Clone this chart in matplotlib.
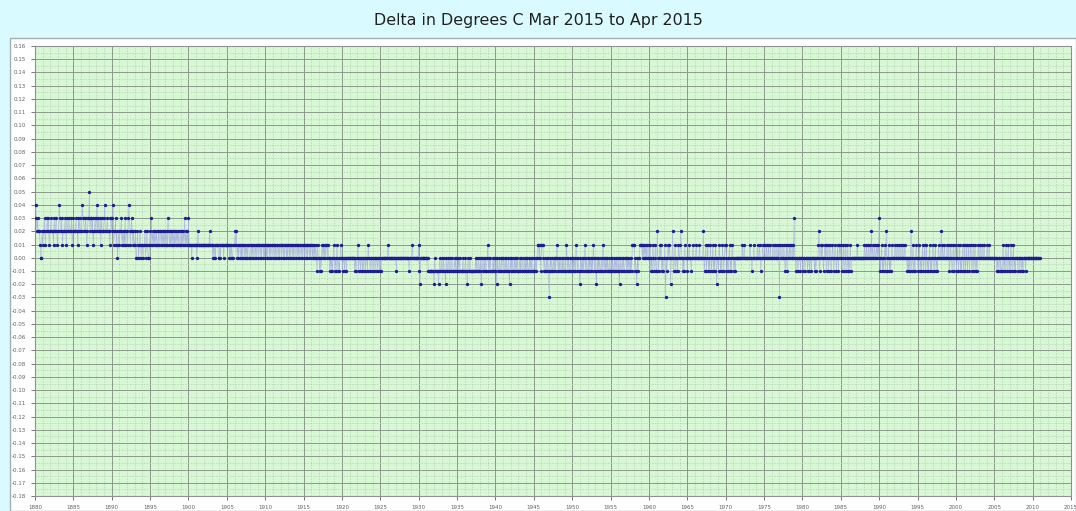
import numpy as np
import matplotlib.pyplot as plt
import matplotlib.ticker as ticker
from matplotlib.patches import Rectangle

# monthly deltas, one 12-char chunk per year
# '0'..'5' = +0.00..+0.05, 'a' = -0.01, 'b' = -0.02, 'c' = -0.03
d1880 = ("443232221002 122312232312 232221322321 224322312223 213223222312 "
         "322232213232 224332232123 352332312232 342322313222 342223222133")
d1890 = ("234122312012 122312121312 213421232121 120021012101 101120121001 "
         "213121212121 121221212121 212132121212 121212121211 212121312121")
d1900 = ("311110111111 101211111111 111111111211 110101011110 010111101111 "
         "111101010011 121201011010 101101010110 011010110101 101101011010")
d1910 = ("110101101011 011010110101 101101011010 110101101011 011010110101 "
         "101101011010 110101010a10 0a0a01010101 10100a0a0a01 0a0a10a0a010")
d1920 = ("0a00a00a0000 00000000a0a0 01a00a00a0a0 0a00a100a00a 00a00a00a00a "
         "0a0000000000 100000000000 0a0000000000 000000000a00 001000000000")
d1930 = ("1ab000000000 000aaaaaaaaa b0aaaaaba0aa 0aa0aab0aa0a a0aa0aaa0a0a "
         "aa0a0aaaa0aa a0aab0aa0aaa aaaaa0a0aa0a a0b0aa0a0aa0 1a0a0aaa0a0a")
d1940 = ("a0b0aa0aa0a0 0aa0a0aa0ab0 a0a0aa0a0a0a aa0a0aa0aa0a 0a0aa0a0a0aa "
         "a0a0a011010a 1110a0aa0a0a ca0a0aa0a0a0 10a0a0aa0a0a a0a10a0aa0a0")
d1950 = ("0a0a0a10a0aa b0a0a0a01a0a a0a0a0a0a10a 0ab0a0a0aa0a 10a0a0a0aa0a "
         "a0a0aa0a0a0a a0b0aa0a0aa0 0a0a0a0a0a11 11a0ab0a0011 110101010100")
d1960 = ("101a0a10a01a a20a0101a0a0 01c0a01010b0 020a01a00a10 01200a0a1000 "
         "a00100a00100 001000010000 020a01a01a0a 10a01a0a10b0 0a10a0a10a01")
d1970 = ("10a0a01a0a10 0a0a00000000 001001000000 00100a001000 0010010a0010 "
         "010010010010 001001001001 c10010010a01 a10010100103 00a00a000a00")
d1980 = ("0a00a000a00a 00a0000a0a00 012a01010a01 01a01a010a01 0a010a01a010 "
         "10a01a01a01a 0a01a0000000 001000000000 010010010010 201001001010")
d1990 = ("30a01a0a01a2 0a01a0a01000 010010010010 01001000a0a0 a02a01a0a010 "
         "0a01a0a01a01 a01a0a01a0a0 10a01a0a0100 020100100010 01a010a01a01")
d2000 = ("0a01a01a0a01 a01a01a01a01 0a01a01a0a01 001001001000 010010000000 "
         "0000a0a00a0a a01a0a10a01a 0a10a01a0a00 0a00a00a0a00 0a0000000000")
d2010 = "000000000000"

code_vals = {'c': -0.03, 'b': -0.02, 'a': -0.01, '0': 0.0,
             '1': 0.01, '2': 0.02, '3': 0.03, '4': 0.04, '5': 0.05}

chars = "".join((d1880 + d1890 + d1900 + d1910 + d1920 + d1930 + d1940 +
                 d1950 + d1960 + d1970 + d1980 + d1990 + d2000 + d2010).split())
delta = np.array([code_vals[c] for c in chars])
years = 1880 + np.arange(len(delta)) / 12.0

fig = plt.figure(figsize=(10.76, 5.11), dpi=100)
fig.patch.set_facecolor("#d9fbff")
fig.patches.append(Rectangle((10 / 1076, 0), 1 - 10 / 1076, 1 - 38 / 511,
                             transform=fig.transFigure, facecolor="white",
                             edgecolor="#a0b0b0", lw=1.0, zorder=-1))
fig.text(0.5, 1 - 20 / 511, "Delta in Degrees C Mar 2015 to Apr 2015",
         ha="center", va="center", fontsize=11.4, color="#202020")

ax = fig.add_axes([35 / 1076, 15 / 511, 1036 / 1076, 450 / 511], zorder=2)
ax.set_facecolor("#d8f7d4")
ax.plot(years, delta, color="#aab2de", lw=0.4, zorder=3)
ax.plot(years, delta, ls="none", marker="o", ms=2.4, color="#1c1c94",
        markeredgewidth=0, zorder=4)

ax.set_xlim(1880, 2015)
ax.set_ylim(-0.18, 0.16)
ax.xaxis.set_major_locator(ticker.MultipleLocator(5))
ax.xaxis.set_minor_locator(ticker.MultipleLocator(1))
ax.yaxis.set_major_locator(ticker.MultipleLocator(0.01))
ax.yaxis.set_minor_locator(ticker.MultipleLocator(0.005))
ax.yaxis.set_major_formatter(ticker.FuncFormatter(lambda v, p: f"{v:.2f}".replace("-0.00", "0.00")))
ax.grid(which="major", color="#8c9a8c", lw=0.7)
ax.grid(which="minor", color="#b4ccb4", lw=0.5, ls=(0, (2, 2)))
ax.set_axisbelow(True)
ax.tick_params(which="major", labelsize=4, colors="#606060", length=3, width=0.6)
ax.tick_params(which="minor", length=0)
for s in ax.spines.values():
    s.set_color("#909090")
    s.set_linewidth(0.8)

fig.savefig("out.png", dpi=100)
